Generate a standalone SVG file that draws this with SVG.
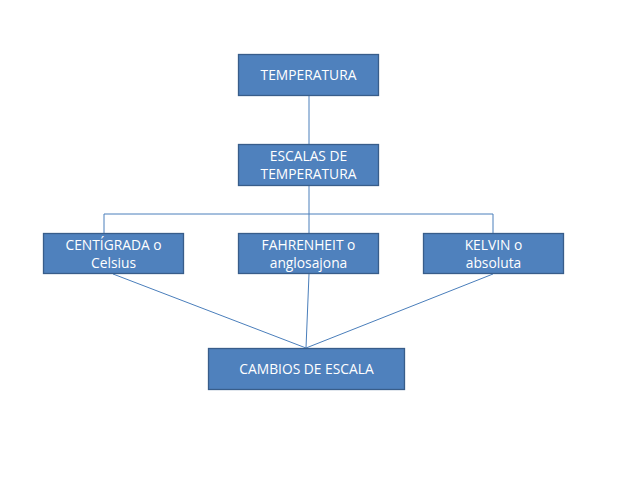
<svg xmlns="http://www.w3.org/2000/svg" width="638" height="479" viewBox="0 0 638 479">
<style>
.box{fill:#4F81BD;stroke:#385D8A;stroke-width:1.3}
.t{font-family:"Open Sans","Liberation Sans",sans-serif;font-size:13.8px;fill:#fff;text-anchor:middle}
.c{stroke:#4A7EBB;stroke-width:1;fill:none}
</style>
<rect width="638" height="479" fill="#fff"/>
<g id="connectors">
<line class="c" x1="309" y1="95" x2="309" y2="144"/>
<line class="c" x1="309" y1="185" x2="309" y2="233"/>
<polyline class="c" points="104,233 104,214 493,214 493,233"/>
<line class="c" x1="113" y1="274" x2="306" y2="348"/>
<line class="c" x1="309" y1="274" x2="306" y2="348"/>
<line class="c" x1="493" y1="274" x2="306" y2="348"/>
</g>
<g id="temperatura">
<rect class="box" x="238.5" y="54.5" width="140" height="41"/>
<text class="t" x="308.5" y="80">TEMPERATURA</text>
</g>
<g id="escalas">
<rect class="box" x="238.5" y="144.5" width="140" height="41"/>
<text class="t" x="308.5" y="160.5">ESCALAS DE</text>
<text class="t" x="308.5" y="178.5">TEMPERATURA</text>
</g>
<g id="centigrada">
<rect class="box" x="43.5" y="233.5" width="140" height="40"/>
<text class="t" x="113.5" y="249.5">CENTÍGRADA o</text>
<text class="t" x="113.5" y="267.5">Celsius</text>
</g>
<g id="fahrenheit">
<rect class="box" x="238.5" y="233.5" width="140" height="40"/>
<text class="t" x="308.5" y="249.5">FAHRENHEIT o</text>
<text class="t" x="308.5" y="267.5">anglosajona</text>
</g>
<g id="kelvin">
<rect class="box" x="423.5" y="233.5" width="140" height="40"/>
<text class="t" x="493.5" y="249.5">KELVIN o</text>
<text class="t" x="493.5" y="267.5">absoluta</text>
</g>
<g id="cambios">
<rect class="box" x="208.5" y="348.5" width="196" height="41"/>
<text class="t" x="306.5" y="374">CAMBIOS DE ESCALA</text>
</g>
</svg>
